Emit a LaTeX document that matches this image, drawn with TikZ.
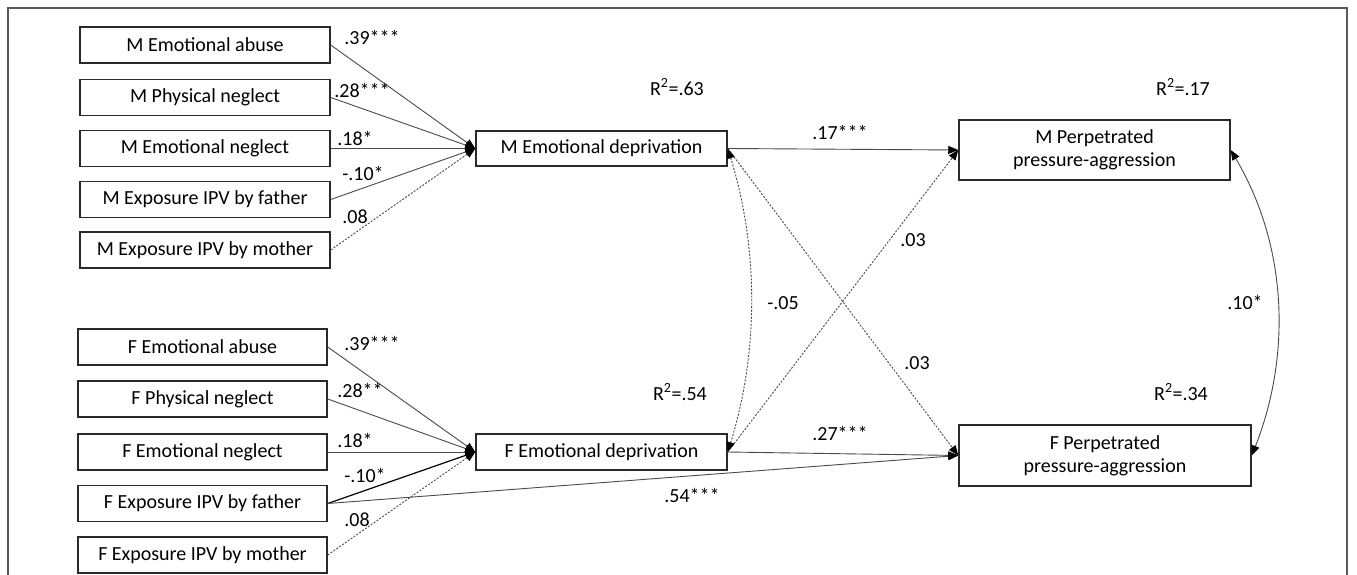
\documentclass[tikz,border=0pt]{standalone}
\usepackage{fontspec}
\setmainfont{Carlito}
\usetikzlibrary{arrows.meta}
\definecolor{boxc}{HTML}{2A2A2A}
\definecolor{linec}{HTML}{4A4A4A}
\begin{document}
\begin{tikzpicture}[x=1pt,y=-1pt,
  every node/.style={font=\fontsize{20}{23}\selectfont, text=black},
  bx/.style={draw=boxc, line width=1.5pt, inner sep=0pt, align=center},
  lbox/.style={bx, minimum width=250pt, minimum height=36pt},
  path/.style={draw=linec, line width=0.9pt, -{Triangle[length=10pt,width=8pt,color=black]}},
  dpath/.style={path, dash pattern=on 2pt off 1.5pt},
  lab/.style={inner sep=0pt}
]
\useasboundingbox (0,0) rectangle (1357,575);
\draw[draw=gray!70!black, line width=1.6pt] (8,590) -- (8,8) -- (1347,8) -- (1347,590);

% left M boxes
\node[lbox] (mea) at (205,45) {M Emotional abuse};
\node[lbox] (mpn) at (205,97.5) {M Physical neglect};
\node[lbox] (men) at (205,148.5) {M Emotional neglect};
\node[lbox] (mef) at (205,199.5) {M Exposure IPV by father};
\node[lbox] (mem) at (205,250) {M Exposure IPV by mother};
% left F boxes
\node[lbox, minimum width=249pt] (fea) at (202.5,347) {F Emotional abuse};
\node[lbox, minimum width=249pt] (fpn) at (202.5,399) {F Physical neglect};
\node[lbox, minimum width=249pt] (fen) at (202.5,452) {F Emotional neglect};
\node[lbox, minimum width=249pt] (fef) at (202.5,503.5) {F Exposure IPV by father};
\node[lbox, minimum width=249pt] (fem) at (202.5,555) {F Exposure IPV by mother};
% mediators
\node[bx, minimum width=251pt, minimum height=35pt] (med) at (601.5,148.5) {M Emotional deprivation};
\node[bx, minimum width=251pt, minimum height=36pt] (fed) at (601.5,452) {F Emotional deprivation};
% outcomes
\node[bx, minimum width=271pt, minimum height=60pt] (mpp) at (1094.5,150) {M Perpetrated\\pressure-aggression};
\node[bx, minimum width=292pt, minimum height=61pt] (fpp) at (1105,455.5) {F Perpetrated\\pressure-aggression};

% M paths
\draw[path] (mea.east) -- (med.west);
\draw[path] (mpn.east) -- (med.west);
\draw[path] (men.east) -- (med.west);
\draw[path] (mef.east) -- (med.west);
\draw[dpath] (mem.east) -- (med.west);
% F paths
\draw[path] (fea.east) -- (fed.west);
\draw[path] (fpn.east) -- (fed.west);
\draw[path] (fen.east) -- (fed.west);
\draw[path, line width=1.2pt, draw=black] (fef.east) -- (fed.west);
\draw[dpath] (fem.east) -- (fed.west);
\draw[path] (fef.east) -- (fpp.west);

% mediators to outcomes
\draw[path] (med.east) -- (mpp.west);
\draw[path] (fed.east) -- (fpp.west);
\draw[dpath] (med.east) -- (fpp.west);
\draw[dpath] (fed.east) -- (mpp.west);
% covariances
\draw[dpath, {Triangle[length=10pt,width=8pt,color=black]}-{Triangle[length=10pt,width=8pt,color=black]}] (med.east) .. controls +(31,100) and +(31,-100) .. (fed.east);
\draw[path, {Triangle[length=10pt,width=8pt,color=black]}-{Triangle[length=10pt,width=8pt,color=black]}] (mpp.east) .. controls +(59,100) and +(38,-96) .. (fpp.east);

% coefficient labels
\node[lab] (l1) at (372,37) {.39***};
\node[lab] (l2) at (362,90) {.28***};
\node[lab] (l3) at (355,138) {.18*};
\node[lab] (l4) at (363,173) {-.10*};
\node[lab] (l5) at (355,217) {.08};
\node[lab] (l6) at (372,343) {.39***};
\node[lab] (l7) at (360,390) {.28**};
\node[lab] (l8) at (355,440) {.18*};
\node[lab] (l9) at (365,475) {-.10*};
\node[lab] (l10) at (357,520) {.08};
\node[lab] (l11) at (840,132) {.17***};
\node[lab] (l12) at (840,433) {.27***};
\node[lab] (l13) at (692,495) {.54***};
\node[lab] (l14) at (913,240) {.03};
\node[lab] (l15) at (917,363) {.03};
\node[lab] (l16) at (783,303) {-.05};
\node[lab] (l17) at (1245,302) {.10*};
% R squared
\node[lab] (r1) at (677,87) {R\textsuperscript{2}=.63};
\node[lab] (r2) at (1183,87) {R\textsuperscript{2}=.17};
\node[lab] (r3) at (680,392) {R\textsuperscript{2}=.54};
\node[lab] (r4) at (1181,392) {R\textsuperscript{2}=.34};
\end{tikzpicture}
\end{document}
